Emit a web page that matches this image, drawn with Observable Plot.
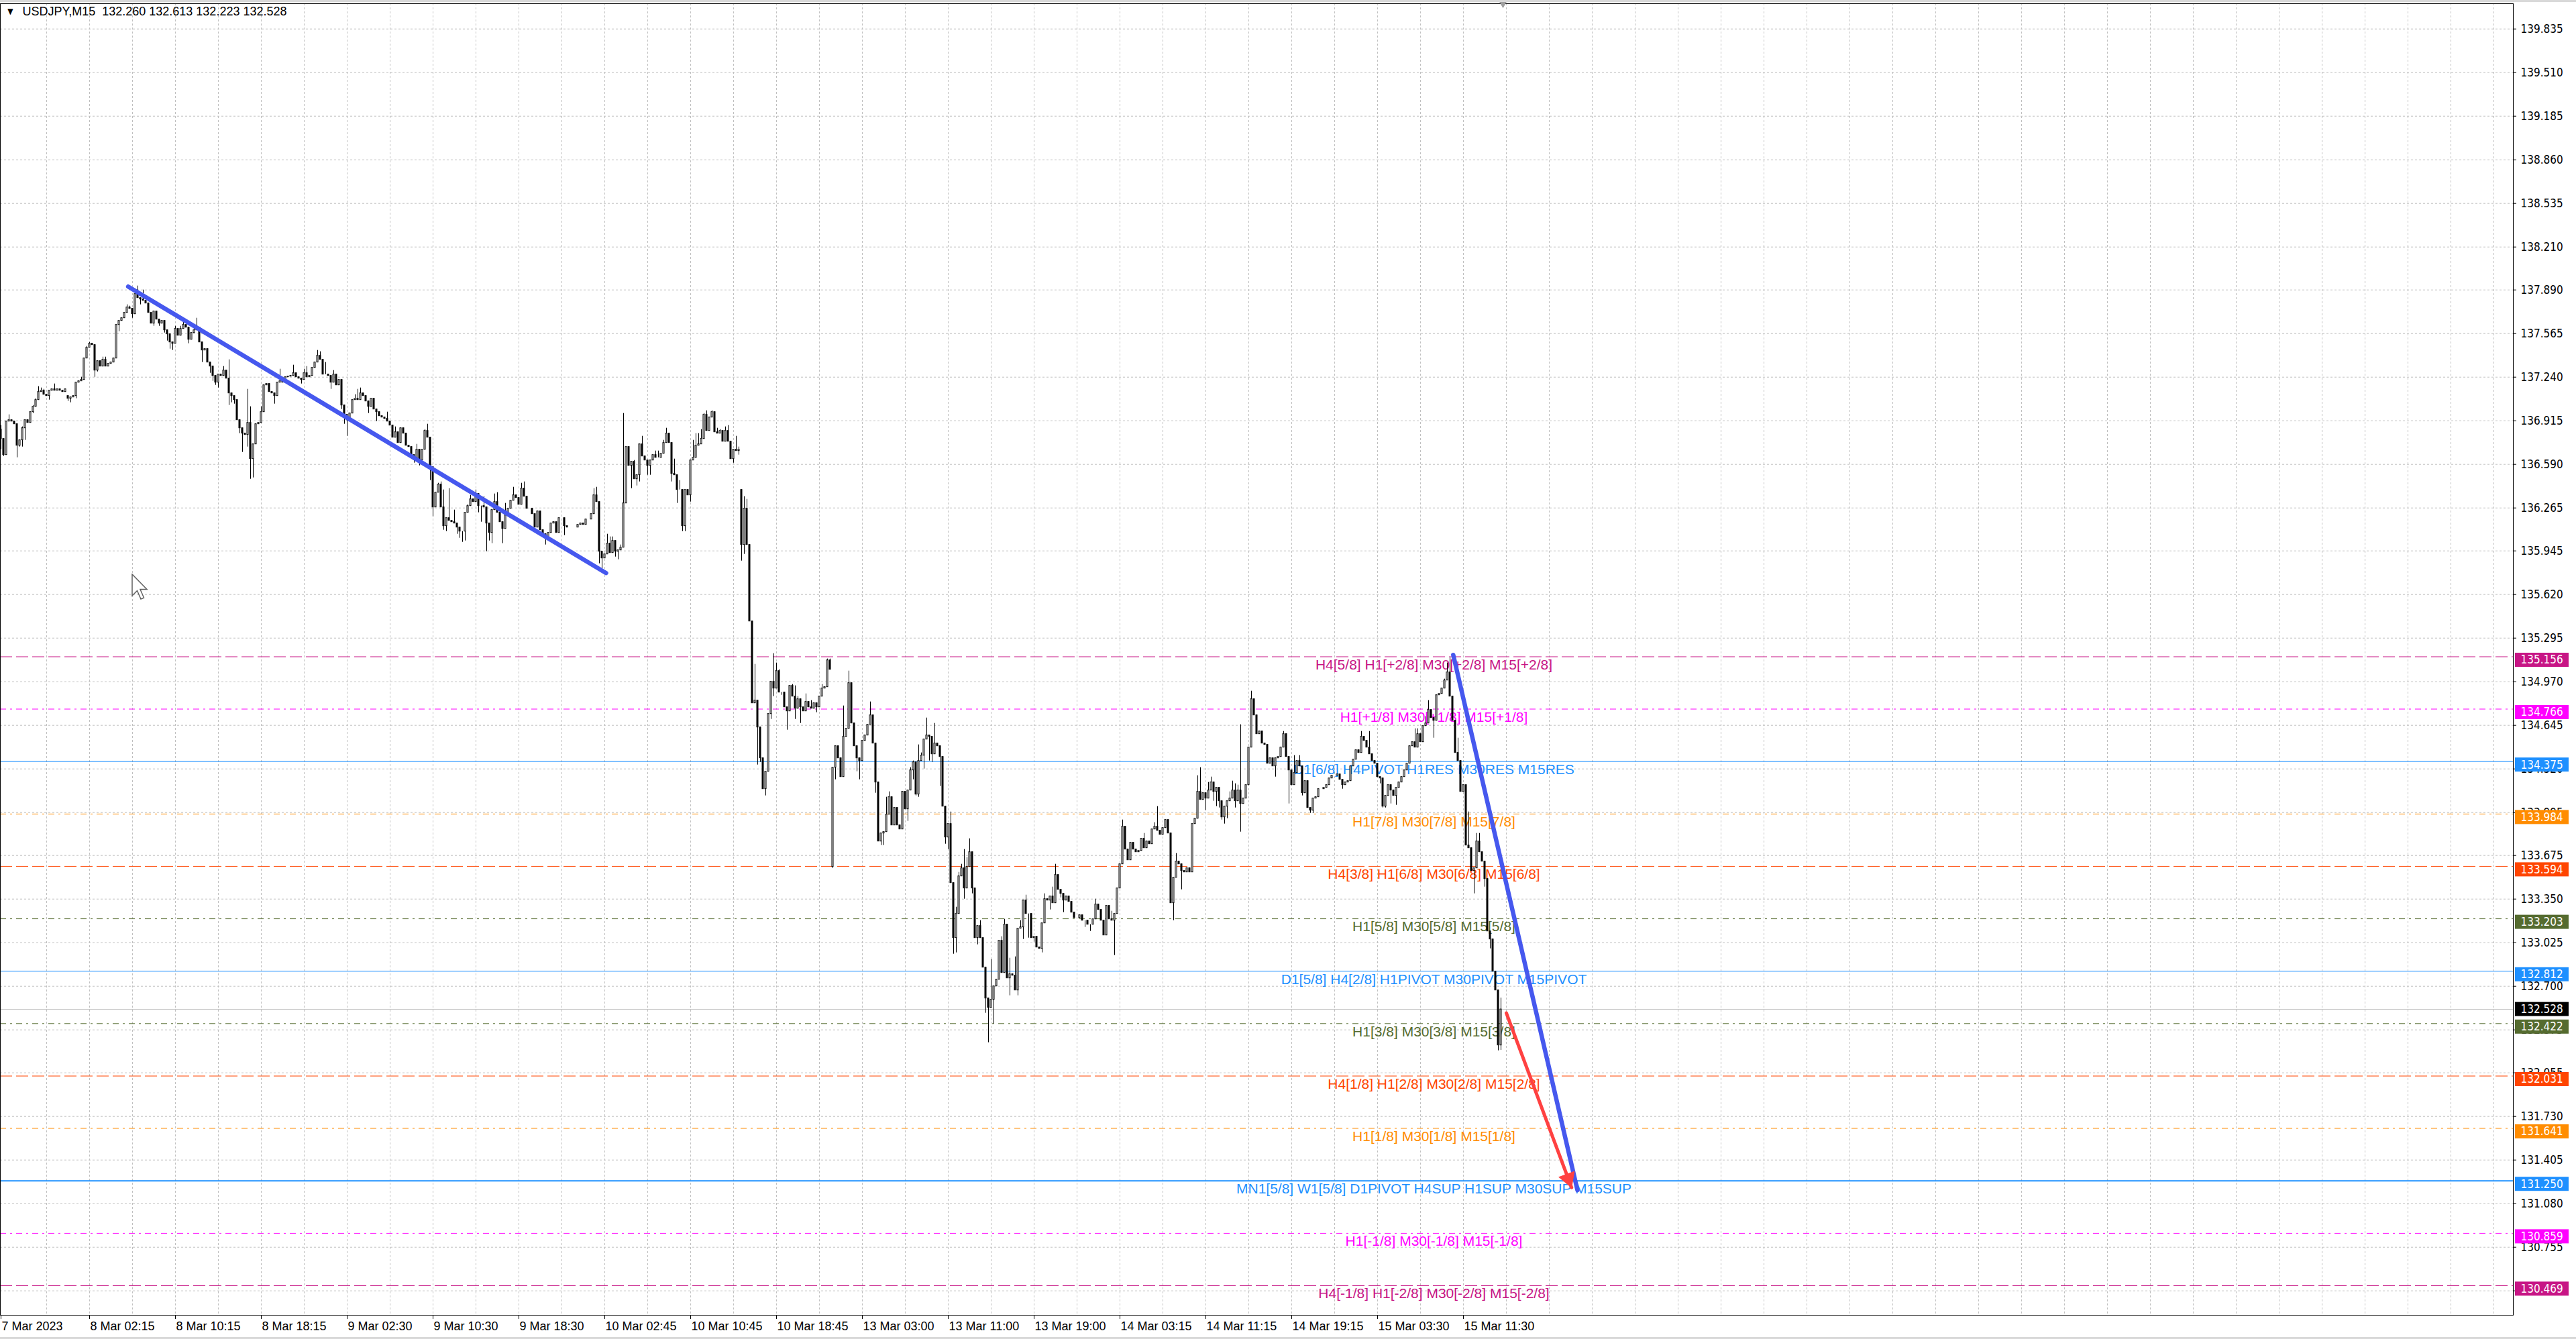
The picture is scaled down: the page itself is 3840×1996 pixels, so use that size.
<!DOCTYPE html>
<html>
<head>
<meta charset="utf-8">
<script src="https://cdn.jsdelivr.net/npm/d3@7"></script>
<script src="https://cdn.jsdelivr.net/npm/@observablehq/plot@0.6"></script>
<style>
  html, body { margin: 0; padding: 0; background: #ffffff; }
  #chart { position: relative; width: 3840px; height: 1996px; overflow: hidden; }
  #chart svg { display: block; }
  .band { position: absolute; left: 0; width: 3840px; background: #d9d9d9; }
  .pointer { position: absolute; left: 196px; top: 855px; }
</style>
</head>
<body>
<div id="chart"></div>
<script>
// USDJPY M15 bars, 7 Mar 18:00 to 15 Mar 14:45 (bar index = position on the time axis)
const firstOpen = 136.85;
const closes = [
  136.78,136.66,136.91,136.92,136.91,136.89,136.73,136.77,136.86,136.92,136.90,136.98,137.02,137.07,137.13,137.14,137.11,137.10,137.14,137.15,
  137.14,137.15,137.14,137.13,137.15,137.08,137.09,137.10,137.20,137.21,137.22,137.38,137.46,137.49,137.48,137.29,137.36,137.32,137.37,137.32,
  137.34,137.35,137.38,137.63,137.66,137.68,137.72,137.76,137.75,137.71,137.86,137.83,137.82,137.81,137.79,137.72,137.64,137.73,137.67,137.64,
  137.66,137.59,137.56,137.50,137.49,137.60,137.55,137.60,137.63,137.61,137.52,137.57,137.59,137.61,137.50,137.44,137.45,137.35,137.32,137.25,
  137.20,137.26,137.25,137.29,137.23,137.12,137.10,137.07,136.92,136.86,136.82,136.81,136.90,136.63,136.74,136.89,136.90,136.98,137.18,137.19,
  137.13,137.12,137.10,137.20,137.21,137.20,137.24,137.245,137.25,137.27,137.24,137.23,137.22,137.27,137.24,137.25,137.31,137.35,137.40,137.37,
  137.26,137.26,137.25,137.20,137.26,137.18,137.22,137.03,136.96,136.92,136.97,137.07,137.08,137.07,137.12,137.10,137.06,137.02,137.08,137.00,
  136.98,136.95,136.94,136.93,136.91,136.88,136.79,136.83,136.75,136.86,136.82,136.73,136.72,136.66,136.64,136.70,136.62,136.70,136.84,136.79,
  136.57,136.27,136.38,136.44,136.27,136.13,136.19,136.17,136.16,136.15,136.12,136.09,136.09,136.23,136.28,136.33,136.31,136.37,136.28,136.28,
  136.27,136.15,136.08,136.25,136.31,136.23,136.16,136.11,136.21,136.26,136.32,136.36,136.34,136.29,136.41,136.35,136.26,136.26,136.22,136.12,
  136.24,136.10,136.07,136.05,136.08,136.15,136.16,136.08,136.19,136.19,136.13,136.12,136.12,136.12,136.12,136.14,136.15,136.14,136.18,136.18,
  136.22,136.36,136.31,135.94,135.89,135.92,136.00,135.93,136.02,135.94,135.95,135.97,136.30,136.72,136.58,136.61,136.48,136.51,136.74,136.65,
  136.62,136.58,136.62,136.66,136.64,136.64,136.67,136.75,136.82,136.75,136.52,136.51,136.40,136.40,136.13,136.40,136.36,136.62,136.64,136.73,
  136.74,136.78,136.96,136.84,136.94,136.98,136.83,136.82,136.84,136.76,136.84,136.76,136.63,136.70,136.69,136.70,135.99,136.26,135.99,135.42,
  134.81,134.83,134.63,134.40,134.17,134.30,134.73,134.97,134.92,135.05,134.89,134.89,134.78,134.75,134.94,134.86,134.77,134.84,134.78,134.75,
  134.82,134.78,134.77,134.81,134.78,134.86,134.92,134.93,135.13,135.06,134.33,134.49,134.40,134.26,134.56,134.62,134.96,134.66,134.49,134.40,
  134.38,134.53,134.57,134.65,134.72,134.51,134.22,133.78,133.84,133.85,133.98,134.11,133.90,134.03,133.90,133.87,134.15,134.02,134.16,134.31,
  134.37,134.13,134.38,134.42,134.54,134.57,134.56,134.43,134.51,134.49,134.41,134.04,133.81,133.91,133.47,133.06,133.24,133.52,133.58,133.43,
  133.59,133.70,133.43,133.06,133.15,133.06,132.84,132.61,132.54,132.60,132.70,132.75,133.04,132.80,133.16,132.76,132.79,132.78,132.67,133.13,
  133.14,133.34,133.24,133.24,133.06,133.07,132.99,132.98,133.17,133.35,133.34,133.37,133.32,133.53,133.42,133.39,133.34,133.37,133.33,133.25,
  133.21,133.21,133.23,133.19,133.19,133.16,133.16,133.20,133.31,133.27,133.19,133.08,133.30,133.20,133.19,133.24,133.43,133.61,133.89,133.72,
  133.64,133.77,133.72,133.70,133.71,133.80,133.73,133.78,133.76,133.87,133.89,133.86,133.83,133.88,133.94,133.84,133.32,133.51,133.63,133.61,
  133.56,133.55,133.58,133.55,133.91,133.95,134.15,134.09,134.14,134.10,134.16,134.22,134.15,134.18,134.08,133.96,134.04,134.08,134.10,134.16,
  134.08,134.16,134.06,134.10,134.20,134.48,134.84,134.72,134.58,134.60,134.51,134.50,134.36,134.40,134.34,134.40,134.41,134.48,134.58,134.41,
  134.31,134.20,134.29,134.38,134.34,134.14,134.23,134.03,134.01,134.10,134.11,134.17,134.17,134.18,134.20,134.25,134.27,134.27,134.28,134.24,
  134.20,134.22,134.23,134.34,134.39,134.46,134.44,134.56,134.53,134.48,134.43,134.38,134.36,134.26,134.25,134.04,134.12,134.20,134.16,134.12,
  134.18,134.22,134.26,134.31,134.36,134.49,134.52,134.48,134.58,134.52,134.64,134.66,134.76,134.70,134.68,134.87,134.88,134.92,134.98,135.04,
  134.86,134.68,134.44,134.38,134.15,134.20,133.75,133.73,133.56,133.58,133.78,133.70,133.63,133.50,133.11,133.05,132.81,132.67,132.26,132.528
];
// bars whose open differs from the previous close: [bar, open]
const gapOpens = [[25, 137.10], [276, 136.40], [310, 133.59]];
// wick extremes: [bar, price]
const highWicks = [
  [0,136.88],[3,136.96],[8,136.87],[12,137.03],[13,137.08],[14,137.17],[15,137.16],[16,137.15],[20,137.19],[30,137.24],[32,137.47],[33,137.50],
  [38,137.39],[39,137.39],[47,137.78],[48,137.77],[50,137.87],[51,137.92],[53,137.89],[65,137.62],[67,137.62],[68,137.65],[72,137.62],[73,137.68],
  [83,137.32],[85,137.37],[92,137.15],[93,137.02],[97,137.02],[100,137.19],[104,137.30],[109,137.33],
  [113,137.30],[114,137.32],[118,137.44],[119,137.43],[121,137.35],[124,137.29],[132,137.11],[133,137.15],[134,137.16],[144,136.98],[147,136.87],
  [155,136.74],[158,136.85],[159,136.89],[163,136.45],[164,136.46],[165,136.40],[167,136.41],[169,136.25],[174,136.29],[175,136.36],[177,136.40],
  [180,136.35],[184,136.37],[185,136.38],[188,136.30],[191,136.42],[194,136.45],[195,136.46],[221,136.41],[222,136.42],
  [226,136.07],[227,136.05],[228,136.05],[231,135.99],[232,136.97],[234,136.72],[236,136.62],[239,136.80],[244,136.69],[245,136.69],[247,136.77],
  [248,136.86],[251,136.63],[253,136.47],[256,136.40],[258,136.77],[259,136.82],[260,136.82],[261,136.85],[262,136.97],[263,136.99],[265,136.99],
  [267,136.86],[268,136.85],[270,136.87],[271,136.88],[274,136.80],[275,136.72],[277,136.35],[278,136.33],[279,135.46],[280,134.85],[281,135.10],
  [288,135.18],[289,135.11],[290,135.06],[295,134.95],[296,134.94],[297,134.86],[300,134.88],[302,134.83],[306,134.95],[308,135.14],[309,135.14],
  [312,134.45],[314,134.79],[316,135.05],[324,134.82],[330,134.11],[331,134.15],
  [339,134.33],[340,134.38],[342,134.50],[343,134.44],[344,134.52],[345,134.70],[346,134.53],[348,134.66],[354,134.00],[356,133.29],[357,133.55],
  [358,133.61],[359,133.72],[360,133.66],[361,133.80],[365,133.19],[369,132.90],[373,133.07],[374,133.20],[376,132.91],[378,132.92],[380,133.19],
  [382,133.38],[389,133.39],[392,133.44],[393,133.61],[408,133.35],[414,133.26],[418,133.94],[426,133.84],[430,133.92],[431,134.04],[438,133.69],
  [446,134.27],[447,134.33],
  [450,134.22],[451,134.26],[458,134.15],[459,134.23],[460,134.21],[461,134.20],[462,134.65],[466,134.90],[478,134.60],[482,134.42],[484,134.42],
  [507,134.60],[510,134.60],[527,134.62],[528,134.62],[531,134.71],[532,134.83],[538,134.99],[539,135.11],[540,135.15],[543,134.55],[547,134.00],
  [550,133.84],[551,133.84],[559,132.613]
];
const lowWicks = [
  [0,136.70],[1,136.65],[6,136.64],[7,136.72],[8,136.72],[9,136.77],[12,136.97],[18,137.07],[25,137.06],[26,137.05],[28,137.08],[35,137.24],
  [36,137.28],[44,137.58],[49,137.68],[52,137.78],[57,137.62],[59,137.62],[61,137.57],[62,137.51],[63,137.45],[64,137.44],[70,137.49],[75,137.35],
  [78,137.27],[79,137.21],[80,137.18],[81,137.16],[85,137.03],[86,137.05],[87,137.04],[89,136.82],[90,136.68],[92,136.72],[93,136.48],[94,136.49],
  [102,137.04],
  [112,137.19],[123,137.15],[127,137.00],[128,136.89],[129,136.80],[137,136.97],[140,136.91],[154,136.60],[156,136.58],[160,136.47],[161,136.20],
  [162,136.36],[165,136.10],[166,136.09],[170,136.07],[171,136.04],[172,136.01],[173,136.02],[178,136.23],[179,136.16],[181,135.94],[182,136.02],
  [183,136.00],[187,136.00],[203,135.99],[210,136.06],[223,135.85],[224,135.81],
  [225,135.89],[229,135.90],[230,135.88],[235,136.41],[237,136.43],[238,136.46],[241,136.51],[242,136.51],[250,136.46],[252,136.30],[254,136.09],
  [255,136.09],[257,136.31],[273,136.60],[275,136.66],[276,135.87],[277,135.92],[282,134.35],[283,134.37],[285,134.12],[287,134.69],[288,134.86],
  [291,134.87],[293,134.61],[296,134.69],[298,134.66],[304,134.74],[310,133.58],[311,134.24],[313,134.26],[319,134.30],[320,134.24],[326,134.14],
  [328,133.75],[329,133.75],
  [338,133.93],[340,134.24],[341,134.12],[342,134.11],[344,134.32],[346,134.38],[347,134.37],[350,134.19],[352,133.76],[353,133.72],[355,132.94],
  [356,132.95],[359,133.35],[362,133.39],[364,133.01],[367,132.50],[368,132.28],[369,132.58],[370,132.42],[372,132.75],[376,132.63],[379,132.63],
  [381,133.05],[383,133.06],[385,133.03],[388,132.95],[391,133.27],[395,133.36],[396,133.25],[404,133.14],[406,133.11],[415,132.93],[437,133.19],
  [440,133.42],
  [449,134.01],[452,134.08],[453,134.04],[454,134.03],[455,133.94],[456,133.91],[457,133.95],[460,134.03],[462,133.85],[475,134.26],[480,134.06],
  [485,134.12],[488,133.99],[489,133.99],[500,134.17],[514,134.21],[515,134.03],[516,134.03],[518,134.06],[520,134.05],[534,134.55],[549,133.39],
  [553,133.44],[555,132.98],[558,132.22],[559,132.223]
];

// Murrey-math levels
const levelPrices = [135.156, 134.766, 134.375, 133.984, 133.594, 133.203, 132.812, 132.422, 132.031, 131.641, 131.250, 130.859, 130.469];
const levelNames = [
  "H4[5/8] H1[+2/8] M30[+2/8] M15[+2/8]",
  "H1[+1/8] M30[+1/8] M15[+1/8]",
  "D1[6/8] H4PIVOT H1RES M30RES M15RES",
  "H1[7/8] M30[7/8] M15[7/8]",
  "H4[3/8] H1[6/8] M30[6/8] M15[6/8]",
  "H1[5/8] M30[5/8] M15[5/8]",
  "D1[5/8] H4[2/8] H1PIVOT M30PIVOT M15PIVOT",
  "H1[3/8] M30[3/8] M15[3/8]",
  "H4[1/8] H1[2/8] M30[2/8] M15[2/8]",
  "H1[1/8] M30[1/8] M15[1/8]",
  "MN1[5/8] W1[5/8] D1PIVOT H4SUP H1SUP M30SUP M15SUP",
  "H1[-1/8] M30[-1/8] M15[-1/8]",
  "H4[-1/8] H1[-2/8] M30[-2/8] M15[-2/8]"
];
const levelLabelBar = 534;

// price scale ticks
const priceTicks = [139.835, 139.510, 139.185, 138.860, 138.535, 138.210, 137.890, 137.565, 137.240, 136.915, 136.590, 136.265, 135.945,
  135.620, 135.295, 134.970, 134.645, 134.320, 133.995, 133.675, 133.350, 133.025, 132.700, 132.375, 132.055, 131.730, 131.405, 131.080,
  130.755, 130.430];
// time scale labels and the bars they mark
const timeLabels = ["7 Mar 2023", "8 Mar 02:15", "8 Mar 10:15", "8 Mar 18:15", "9 Mar 02:30", "9 Mar 10:30", "9 Mar 18:30",
  "10 Mar 02:45", "10 Mar 10:45", "10 Mar 18:45", "13 Mar 03:00", "13 Mar 11:00", "13 Mar 19:00", "14 Mar 03:15",
  "14 Mar 11:15", "14 Mar 19:15", "15 Mar 03:30", "15 Mar 11:30"];
const timeLabelBars = [0, 33, 65, 97, 129, 161, 193, 225, 257, 289, 321, 353, 385, 417, 449, 481, 513, 545];

// hand-drawn trend lines (bar, price)
const trendLines = [
  {x1: 47.4, y1: 137.915, x2: 225.5, y2: 135.78},
  {x1: 541.2, y1: 135.17, x2: 587.5, y2: 131.18}
];
const projection = {x1: 561.0, y1: 132.50, x2: 585.3, y2: 131.20};

// ---- styling ----
const violet = {color: "#C71585", dash: "18,6"};
const magenta = {color: "#FF00FF", dash: "9,6,3,6"};
const blue = {color: "#1E90FF", dash: null};
const orange = {color: "#FF8C00", dash: "9,6,3,6"};
const redOrange = {color: "#FF4500", dash: "18,6"};
const olive = {color: "#556B2F", dash: "9,6,3,6"};
const levelStyles = [violet, magenta, blue, orange, redOrange, olive, blue, olive, redOrange, orange, blue, magenta, violet];

const W = 3840, H = 1996;
const M = {top: 5, right: 94, bottom: 36, left: 0};
const X = [-0.25, 936.25];
const Y = [130.2485, 140.0235];
const pxPerBar = (W - M.left - M.right) / (X[1] - X[0]);
const pxPerPrice = (H - M.top - M.bottom) / (Y[1] - Y[0]);
const bx = p => p / pxPerBar;     // pixels -> bars
const py = p => p / pxPerPrice;   // pixels -> price

const gapMap = new Map(gapOpens);
const hiMap = new Map(highWicks);
const loMap = new Map(lowWicks);
const candles = closes.map((close, i) => {
  const open = i === 0 ? firstOpen : (gapMap.has(i) ? gapMap.get(i) : closes[i - 1]);
  const high = Math.max(open, close, hiMap.has(i) ? hiMap.get(i) : -Infinity);
  const low = Math.min(open, close, loMap.has(i) ? loMap.get(i) : Infinity);
  return {i, open, close, high, low, up: close >= open};
});
const lastBar = candles[candles.length - 1];

const levels = levelPrices.map((price, k) => ({price, name: levelNames[k], ...levelStyles[k]}));
// price-scale badges: level badges hang a little below their line, the bid badge is centred on it
const axisBoxes = [
  ...levels.map(d => ({price: d.price, color: d.color, shift: 5})),
  {price: lastBar.close, color: "#000000", shift: 0}
];

const gridBars = d3.range(17, X[1], 16);

// filled arrow head of the projection line
const dxp = (projection.x2 - projection.x1) * pxPerBar;
const dyp = -(projection.y2 - projection.y1) * pxPerPrice;
const lenPx = Math.hypot(dxp, dyp);
const headR = 9;
const headBack = 2 * Math.sqrt(Math.PI * headR * headR / (Math.sqrt(3) * 3));
const headAt = 1 - headBack / lenPx;
const head = [{
  x: projection.x1 + (projection.x2 - projection.x1) * headAt,
  y: projection.y1 + (projection.y2 - projection.y1) * headAt,
  angle: Math.atan2(dxp, -dyp) * 180 / Math.PI
}];

const axisFont = "DejaVu Sans Condensed, DejaVu Sans, sans-serif";
const textFont = "Liberation Sans, Arial, sans-serif";
const fmt = v => v.toFixed(3);

const marks = [
  // grid
  Plot.ruleX(gridBars, {x: d => d, stroke: "#c0c0c0", strokeWidth: 1, strokeDasharray: "3,3"}),
  Plot.ruleY(priceTicks, {y: d => d, stroke: "#c0c0c0", strokeWidth: 1, strokeDasharray: "3,3"}),
  // levels
  ...levels.map(d => Plot.ruleY([d.price], {stroke: d.color, strokeWidth: d.price === 131.25 ? 2 : 1, strokeDasharray: d.dash})),
  Plot.ruleY([lastBar.close], {stroke: "#c0c0c0", strokeWidth: 1}),
  Plot.text(levels, {x: levelLabelBar, y: "price", text: "name", fill: d => d.color, fontSize: 21, fontFamily: textFont,
    lineAnchor: "middle", dy: 12}),
  // candles
  Plot.ruleX(candles, {x: "i", y1: "low", y2: "high", stroke: "#000000", strokeWidth: 1}),
  Plot.rect(candles, {x1: d => d.i - bx(1), x2: d => d.i + bx(1), y1: "open", y2: "close",
    fill: d => d.up ? "#ffffff" : "#000000", stroke: "#000000", strokeWidth: 1}),
  // trend lines
  Plot.link(trendLines, {x1: "x1", y1: "y1", x2: "x2", y2: "y2", stroke: "#4658ee", strokeWidth: 6.5, strokeLinecap: "round"}),
  Plot.link([projection], {x1: "x1", y1: "y1", x2: "x2", y2: "y2", stroke: "#ff4141", strokeWidth: 5, strokeLinecap: "round"}),
  Plot.dot(head, {x: "x", y: "y", r: headR, symbol: "triangle", rotate: "angle", fill: "#ff4141", stroke: "#ff4141", strokeWidth: 1}),
  // frame
  Plot.frame({stroke: "#000000", strokeWidth: 1}),
  // chart-shift marker
  Plot.dot([lastBar], {x: d => d.i + bx(3), y: Y[1], r: 5, symbol: "triangle", rotate: 180, fill: "#a0a0a0", dy: -1}),
  // price scale
  Plot.ruleY(priceTicks, {y: d => d, x1: X[1], x2: X[1] + bx(5), stroke: "#000000", strokeWidth: 1}),
  Plot.text(priceTicks, {x: X[1], y: d => d, text: fmt, textAnchor: "start", dx: 11, fontSize: 17, fontFamily: axisFont,
    fill: "#000000", lineAnchor: "middle"}),
  Plot.rect(axisBoxes, {x1: X[1] + bx(3), x2: X[1] + bx(83),
    y1: d => d.price - py(d.shift + 10.5), y2: d => d.price - py(d.shift - 10.5), fill: "color"}),
  Plot.text(axisBoxes, {x: X[1], y: d => d.price - py(d.shift), text: d => fmt(d.price), textAnchor: "start", dx: 11, fontSize: 17,
    fontFamily: axisFont, fill: "#ffffff", lineAnchor: "middle"}),
  // time scale
  Plot.ruleX(timeLabelBars, {x: d => d, y1: Y[0], y2: Y[0] - py(6), stroke: "#000000", strokeWidth: 1}),
  Plot.text(timeLabels, {x: (d, k) => timeLabelBars[k], y: Y[0], text: d => d, textAnchor: "start", dx: 1, dy: 17,
    fontSize: 18, fontFamily: textFont, fill: "#000000", lineAnchor: "middle"}),
  // title
  Plot.text(["\u25BC"], {frameAnchor: "top-left", dx: 15, dy: 12, fontSize: 12, fontFamily: axisFont, fill: "#000000",
    textAnchor: "middle", lineAnchor: "middle"}),
  Plot.text([`USDJPY,M15  ${fmt(lastBar.open)} ${fmt(lastBar.high)} ${fmt(lastBar.low)} ${fmt(lastBar.close)}`], {
    frameAnchor: "top-left", dx: 33, dy: 12, fontSize: 18, fontFamily: textFont, fill: "#000000",
    textAnchor: "start", lineAnchor: "middle"})
];

const chart = Plot.plot({
  width: W,
  height: H,
  marginTop: M.top,
  marginRight: M.right,
  marginBottom: M.bottom,
  marginLeft: M.left,
  style: {background: "#ffffff", overflow: "visible"},
  x: {type: "linear", domain: X, axis: null},
  y: {type: "linear", domain: Y, axis: null},
  marks
});

const host = document.getElementById("chart");
host.appendChild(chart);
const bandTop = document.createElement("div");
bandTop.className = "band"; bandTop.style.top = "0px"; bandTop.style.height = "3px";
host.appendChild(bandTop);
const bandBottom = document.createElement("div");
bandBottom.className = "band"; bandBottom.style.bottom = "0px"; bandBottom.style.height = "3px";
host.appendChild(bandBottom);

// mouse pointer resting over the chart
const pointer = document.createElementNS("http://www.w3.org/2000/svg", "svg");
pointer.setAttribute("class", "pointer");
pointer.setAttribute("width", "26");
pointer.setAttribute("height", "40");
pointer.innerHTML = '<path d="M1,1 L1,33 L8.5,25.5 L14,38 L18.5,36 L13,23.5 L23,23.5 Z" fill="#ffffff" stroke="#606060" stroke-width="1.5" stroke-linejoin="miter"/>';
host.appendChild(pointer);
</script>
</body>
</html>
